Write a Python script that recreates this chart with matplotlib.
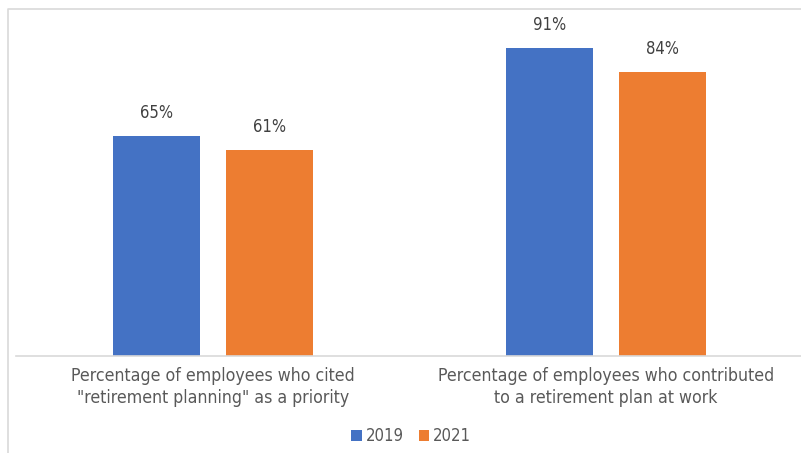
import numpy as np
import matplotlib.pyplot as plt
from matplotlib.lines import Line2D

# Datos
categorias = ['Percentage of employees who cited\n"retirement planning" as a priority',
              'Percentage of employees who contributed\nto a retirement plan at work']
valores_2019 = [65, 91]
valores_2021 = [61, 84]
series = ['2019', '2021']
colores = ['#4472C4', '#ED7D31']

plt.rcParams['font.family'] = ['DejaVu Sans']
plt.rcParams['font.stretch'] = 'condensed'
gris = '#595959'

fig = plt.figure(figsize=(8.01, 4.53), dpi=100)
ax = fig.add_axes([16/801, 97/453, 787/801, 338.5/453])

x = np.arange(len(categorias))
ancho = 0.221
desp = 0.1436
b1 = ax.bar(x - desp, valores_2019, ancho, color=colores[0], label=series[0])
b2 = ax.bar(x + desp, valores_2021, ancho, color=colores[1], label=series[1])

for barras in (b1, b2):
    for b in barras:
        ax.text(b.get_x() + b.get_width()/2, b.get_height() + 4, f'{b.get_height():.0f}%',
                ha='center', va='bottom', fontsize=12, color='#404040')

ax.set_xlim(-0.5, 1.5)
ax.set_ylim(0, 100)
ax.set_yticks([])
ax.set_xticks(x)
ax.set_xticklabels(categorias, fontsize=12.7, color=gris, linespacing=1.3)
ax.tick_params(axis='x', length=0, pad=8)
for s in ['top', 'right', 'left']:
    ax.spines[s].set_visible(False)
ax.spines['bottom'].set_color('#D9D9D9')
ax.spines['bottom'].set_linewidth(1.2)

leg = fig.legend(loc='center', bbox_to_anchor=(411/801, 1 - 436/453), ncol=2, frameon=False,
                 fontsize=12, handlelength=0.65, handleheight=0.65, handletextpad=0.2,
                 columnspacing=0.9)
for t in leg.get_texts():
    t.set_color(gris)

# Borde (izquierda y arriba)
bx, by = 7.5/801, 1 - 9/453
fig.lines.append(Line2D([bx, bx, 1.0], [0, by, by], transform=fig.transFigure,
                        color='#D9D9D9', linewidth=1.2))

fig.savefig('out.png', dpi=100)
